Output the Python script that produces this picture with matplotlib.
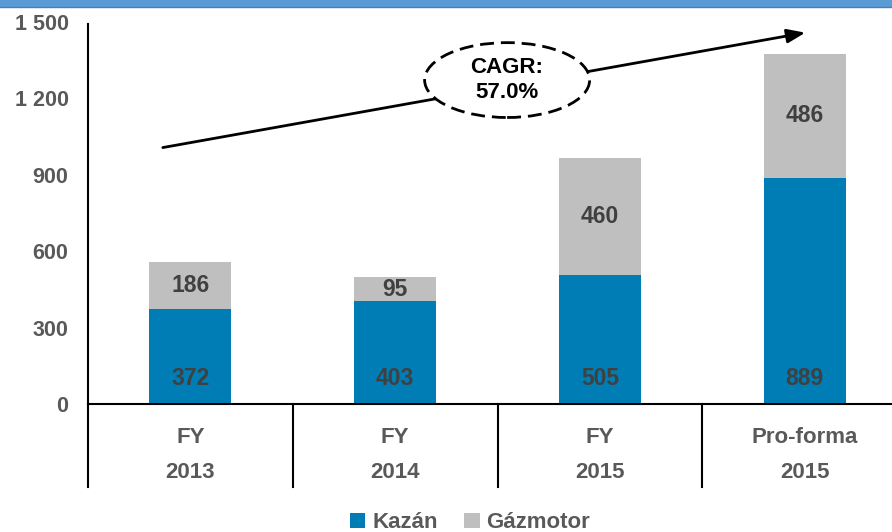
import matplotlib.pyplot as plt
from matplotlib.patches import Ellipse, Rectangle

plt.rcParams['font.family'] = ['Liberation Sans', 'DejaVu Sans']
plt.rcParams['font.weight'] = 'bold'

top_labels = ['FY', 'FY', 'FY', 'Pro-forma']
bottom_labels = ['2013', '2014', '2015', '2015']
kazan = [372, 403, 505, 889]
gazmotor = [186, 95, 460, 486]
y_ticks = [0, 300, 600, 900, 1200, 1500]
y_tick_labels = ['0', '300', '600', '900', '1 200', '1 500']
cagr_text = 'CAGR:\n57.0%'

blue = '#007DB5'
grey = '#BFBFBF'
dark = '#404040'
tick_col = '#595959'

fig = plt.figure(figsize=(8.92, 5.32), dpi=100)
ax = fig.add_axes([88 / 892, 1 - 404 / 532, (907 - 88) / 892, 382 / 532])

x = list(range(len(kazan)))
ax.bar(x, kazan, width=0.4, color=blue, label='Kazán', zorder=2)
ax.bar(x, gazmotor, width=0.4, bottom=kazan, color=grey, label='Gázmotor', zorder=2)

# data labels
for i in x:
    ax.text(i, 100, str(kazan[i]), ha='center', va='center',
            fontsize=16.5, color=dark, fontweight='bold', zorder=3)
    ax.text(i, kazan[i] + gazmotor[i] / 2, str(gazmotor[i]), ha='center',
            va='center', fontsize=16.5, color=dark, fontweight='bold', zorder=3)

ax.set_xlim(-0.5, 3.5)
ax.set_ylim(0, 1500)
ax.set_yticks(y_ticks)
ax.set_yticklabels(y_tick_labels, fontsize=15.5, color=tick_col, fontweight='bold')
ax.tick_params(axis='y', length=0, pad=14)
ax.set_xticks([])

for s in ['top', 'right']:
    ax.spines[s].set_visible(False)
ax.spines['left'].set_bounds(0, 1492)
ax.spines['left'].set_linewidth(1.5)
ax.spines['bottom'].set_linewidth(1.5)

# two-level category axis
tr = ax.get_xaxis_transform()
for i in x:
    ax.text(i, -0.0864, top_labels[i], transform=tr, ha='center', va='center',
            fontsize=16, color=tick_col, fontweight='bold')
    ax.text(i, -0.1806, bottom_labels[i], transform=tr, ha='center', va='center',
            fontsize=16, color=tick_col, fontweight='bold')
for b in [-0.5, 0.5, 1.5, 2.5, 3.5]:
    ax.plot([b, b], [0, -0.217], transform=tr, color='black', lw=1.5, clip_on=False)

# CAGR arrow and bubble
ax.annotate('', xy=(3.017, 1460), xytext=(-0.148, 1005),
            arrowprops=dict(arrowstyle='-|>,head_length=1.1,head_width=0.42',
                            color='black', lw=2), zorder=4)
ell = Ellipse((1.547, 1272), 0.806, 294, facecolor='white', edgecolor='black',
              lw=2, linestyle=(0, (5, 2.5)), zorder=5)
ax.add_patch(ell)
ax.text(1.547, 1272, cagr_text, ha='center', va='center', fontsize=16,
        color='black', fontweight='bold', linespacing=1.25, zorder=6)

# blue band at top
fig.patches.append(Rectangle((0, 1 - 7 / 532), 1, 7 / 532, transform=fig.transFigure,
                             facecolor='#5B9BD5', edgecolor='none'))
fig.lines.append(plt.Line2D([0, 1], [1 - 7 / 532, 1 - 7 / 532], transform=fig.transFigure,
                            color='#4A7EBB', lw=1))

fig.legend(loc='center', bbox_to_anchor=(0.527, 0.017), ncol=2, frameon=False,
           fontsize=16, handlelength=0.7, handleheight=0.7, handletextpad=0.3,
           columnspacing=1.2, labelcolor=tick_col)

fig.savefig('out.png', dpi=100)
